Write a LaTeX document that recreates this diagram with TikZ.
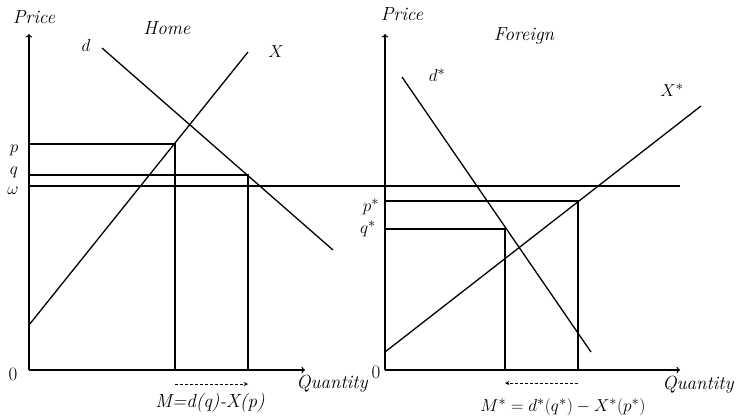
\documentclass[tikz,border=0pt]{standalone}
\begin{document}
\begin{tikzpicture}[x=1pt, y=-1pt, line width=1.3pt,
    every node/.style={font=\fontsize{19}{22}\selectfont\itshape},
    move/.style={line width=0.9pt, dash pattern=on 3pt off 2pt, -stealth}]
    \useasboundingbox (0,0) rectangle (740,416);

    % Home market
    \coordinate (oH) at (29,370);
    \coordinate (topH) at (29,34);
    \coordinate (endH) at (305,370);
    \draw[->] (oH) -- (topH);
    \draw[->] (oH) -- (endH);
    \coordinate (dH1) at (102,48);
    \coordinate (dH2) at (333,250);
    \coordinate (xH1) at (29,325);
    \coordinate (xH2) at (248,52);
    \draw (dH1) -- (dH2);
    \draw (xH1) -- (xH2);
    \coordinate (pH) at (175,144);
    \coordinate (qH) at (248,175);
    \draw (29,144) -- (pH) -- (175,370);
    \draw (29,175) -- (qH) -- (248,370);
    % world price
    \coordinate (wL) at (29,186);
    \coordinate (wR) at (680,186);
    \draw (wL) -- (wR);
    \node (priceH) at (34,17) {Price};
    \node (home) at (167,28) {Home};
    \node (dlab) at (86,45) {$d$};
    \node (xlab) at (276,52) {$X$};
    \node (plab) at (14,150) {$p$};
    \node (qlab) at (14,172) {$q$};
    \node (wlab) at (13,191) {$\omega$};
    \node (zeroH) at (13,374) {\upshape 0};
    \node (quantH) at (332,384) {Quantity};
    \coordinate (mH1) at (175,384);
    \coordinate (mH2) at (248,384);
    \draw[move] (mH1) -- (mH2);
    \node (mlab) at (210,403) {M=d(q)-X(p)};

    % Foreign market
    \coordinate (oF) at (385,370);
    \coordinate (topF) at (385,34);
    \coordinate (endF) at (680,370);
    \draw[->] (oF) -- (topF);
    \draw[->] (oF) -- (endF);
    \coordinate (dF1) at (402,77);
    \coordinate (dF2) at (591,352);
    \coordinate (xF1) at (385,352);
    \coordinate (xF2) at (701,106);
    \draw (dF1) -- (dF2);
    \draw (xF1) -- (xF2);
    \coordinate (pF) at (578,201);
    \coordinate (qF) at (505,229);
    \draw (385,201) -- (pF) -- (578,370);
    \draw (385,229) -- (qF) -- (505,370);
    \node (priceF) at (402,14) {Price};
    \node (foreign) at (524,36) {Foreign};
    \node (dslab) at (437,75) {$d^{*}$};
    \node (xslab) at (672,90) {$X^{*}$};
    \node (pslab) at (371,207) {$p^{*}$};
    \node (qslab) at (368,229) {$q^{*}$};
    \node (zeroF) at (376,372) {\upshape 0};
    \node (quantF) at (698,385) {Quantity};
    \coordinate (mF1) at (578,383);
    \coordinate (mF2) at (505,383);
    \draw[move] (mF1) -- (mF2);
    \node (mslab) at (563,407) {$M^{*}=d^{*}(q^{*})-X^{*}(p^{*})$};
\end{tikzpicture}
\end{document}
